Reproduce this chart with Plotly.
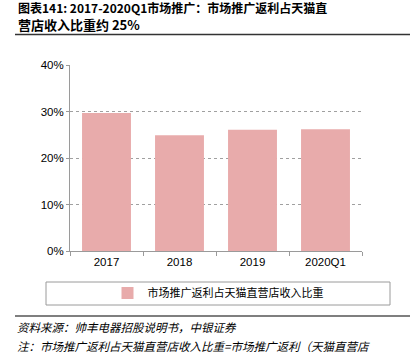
import plotly.graph_objects as go

categories = ["2017", "2018", "2019", "2020Q1"]
values = [0.297, 0.249, 0.261, 0.262]
series_name = "市场推广返利占天猫直营店收入比重"
y_ticks = [0, 0.1, 0.2, 0.3, 0.4]

fig = go.Figure()
fig.add_trace(go.Bar(x=categories, y=values, name=series_name,
                     marker=dict(color="#E8ABAB", line=dict(width=0)),
                     width=0.67, showlegend=True, hoverinfo="skip"))

PL, PR, PT, PB = 70, 362, 65, 251
def px(x):
    return (x - PL) / (PR - PL)
def py(y):
    return (PB - y) / (PB - PT)

fig.update_layout(
    width=410, height=364,
    margin=dict(l=PL, r=410 - PR, t=PT, b=364 - PB, autoexpand=False),
    paper_bgcolor="white", plot_bgcolor="white",
    font=dict(family="Liberation Sans, Arial", size=11, color="#000"),
    showlegend=True,
    legend=dict(x=px(218), xanchor="center", y=py(293), yanchor="middle",
                orientation="h", font=dict(size=11, family="Noto Sans CJK SC"),
                bgcolor="rgba(0,0,0,0)", itemwidth=30),
    bargap=0.33,
)
fig.update_yaxes(range=[0, 0.4], tickvals=y_ticks, tickformat=".0%",
                 showgrid=True, gridcolor="#A0A0A0", griddash="dot", gridwidth=1,
                 showline=True, linecolor="#9A9A9A", linewidth=1,
                 ticks="outside", ticklen=3, tickcolor="#9A9A9A",
                 zeroline=False, tickfont=dict(size=11.5))
fig.update_xaxes(showline=True, linecolor="#9A9A9A", linewidth=1,
                 ticks="outside", tickson="boundaries", ticklen=4, tickcolor="#9A9A9A",
                 tickfont=dict(size=11.5))

shapes = [
    dict(type="rect", xref="paper", yref="paper", x0=px(46), x1=px(390), y0=py(282), y1=py(305),
         line=dict(color="#9A9A9A", width=1), fillcolor="rgba(0,0,0,0)"),
    dict(type="line", xref="paper", yref="paper", x0=px(15), x1=px(410), y0=py(316), y1=py(316),
         line=dict(color="#555555", width=1.5)),
    dict(type="line", xref="paper", yref="paper", x0=px(15), x1=px(410), y0=py(34.5), y1=py(34.5),
         line=dict(color="#333333", width=1.5)),
]
fig.update_layout(shapes=shapes)

annots = [
    dict(text="<b>图表141: 2017-2020Q1市场推广：市场推广返利占天猫直</b>", x=px(16), y=py(7.5),
         font=dict(size=12, family="Noto Sans CJK SC", color="#000")),
    dict(text="<b>营店收入比重约 25%</b>", x=px(16), y=py(25),
         font=dict(size=13, family="Noto Sans CJK SC", color="#000")),
    dict(text="<i>资料来源：帅丰电器招股说明书，中银证券</i>", x=px(15), y=py(327),
         font=dict(size=11.5, family="Noto Sans CJK SC", color="#000")),
    dict(text="<i>注：市场推广返利占天猫直营店收入比重=市场推广返利（天猫直营店</i>", x=px(15), y=py(346),
         font=dict(size=11.5, family="Noto Sans CJK SC", color="#000")),
]
for a in annots:
    fig.add_annotation(xref="paper", yref="paper", xanchor="left", yanchor="middle",
                       showarrow=False, **a)

fig.write_html("out.html", config={"displayModeBar": False},
               post_script="document.body.style.margin='0';")
